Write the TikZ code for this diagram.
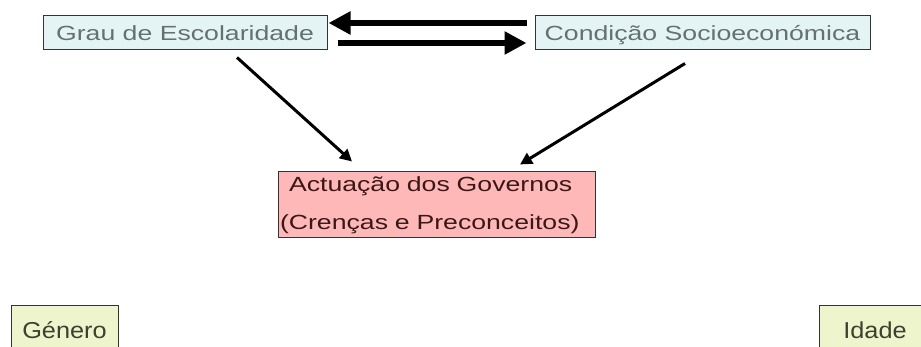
\documentclass[tikz,border=0pt]{standalone}
\usepackage{fontspec}
\setmainfont{Liberation Sans}
\newfontfamily\boxfont{Liberation Sans}[FakeStretch=1.3]
\newfontfamily\lowfont{Liberation Sans}[FakeStretch=1.1]
\usepackage{xcolor}
\usetikzlibrary{arrows.meta,calc}

\definecolor{boxcyan}{HTML}{E4F4F4}
\definecolor{boxpink}{HTML}{FFB8B8}
\definecolor{boxlime}{HTML}{EEF5CC}
\definecolor{textgray}{HTML}{667070}
\definecolor{textdark}{HTML}{3A1818}
\definecolor{textolive}{HTML}{3C4030}

\begin{document}
\begin{tikzpicture}[x=1pt,y=-1pt,
    topbox/.style={draw=black!80, fill=boxcyan, text=textgray, line width=1pt,
        inner sep=0pt, minimum height=34pt, text height=14.7pt, text depth=0pt,
        font=\boxfont\fontsize{20.5}{24}\selectfont},
    govbox/.style={draw=black!80, fill=boxpink, text=textdark, line width=1pt,
        inner xsep=2pt, inner ysep=0pt, minimum height=66pt, text width=313pt,
        align=left, font=\boxfont\fontsize{20.5}{38}\selectfont},
    lowbox/.style={draw=black!80, fill=boxlime, text=textolive, line width=1pt,
        inner sep=0pt, minimum height=48pt, text height=16pt, text depth=0pt,
        font=\lowfont\fontsize{23}{26}\selectfont},
    bigarrow/.style={line width=5.5pt, -{Triangle[length=22pt, width=22pt]}},
    thinarrow/.style={line width=3pt, -{Triangle[length=12pt, width=12pt]}}]
    \clip (0,0) rectangle (921,347);

    \node[topbox, minimum width=284pt] (grau) at (185,33) {Grau de Escolaridade};
    \node[topbox, minimum width=335pt] (cond) at (702.5,33) {Condição Socioeconómica};
    \node[govbox] (gov) at (436.5,205) {\hspace*{9pt}Actuação dos Governos\\(Crenças e Preconceitos)};
    \node[lowbox, minimum width=107pt] (genero) at (64.5,330) {Género};
    \node[lowbox, minimum width=112pt] (idade) at (875,330) {Idade};

    \draw[bigarrow] ($(cond.west)+(-8,-10)$) -- ($(grau.east)+(1,-10)$);
    \draw[bigarrow] ($(grau.east)+(10,10)$) -- ($(cond.west)+(-8,10)$);
    \draw[thinarrow] ($(grau.south)+(52,7)$) -- ($(gov.north)+(-84.5,-10)$);
    \draw[thinarrow] ($(cond.south)+(-17.5,13)$) -- ($(gov.north)+(83.5,-7)$);
\end{tikzpicture}
\end{document}
